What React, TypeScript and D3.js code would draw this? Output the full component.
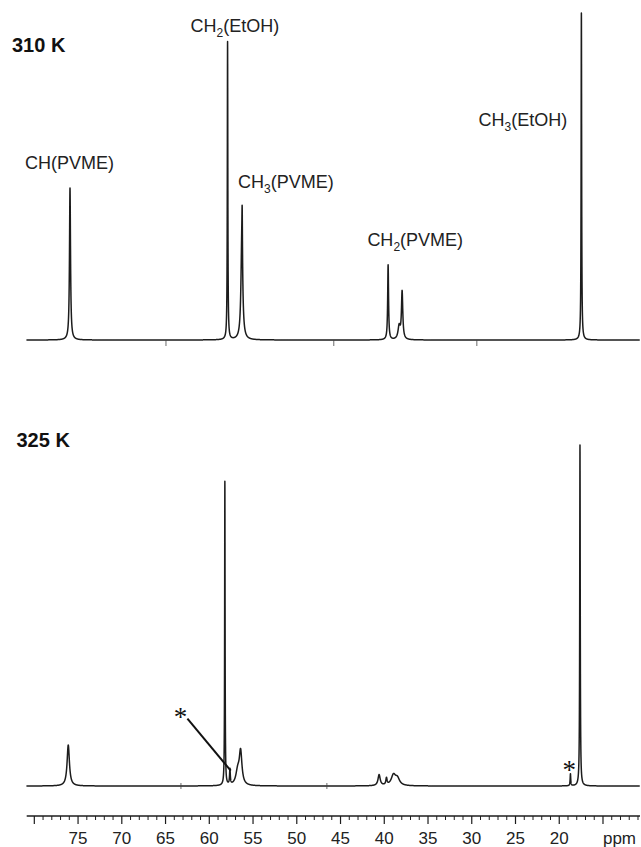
import React, { useEffect, useRef } from 'react';
import * as d3 from 'd3';

// --- data (ppm, % of tallest line, half width in ppm) ---
const spectrum310 = [
  { ppm: 75.92, height: 46.5, hwhm: 0.07 },
  { ppm: 57.91, height: 91.1, hwhm: 0.035 },
  { ppm: 56.24, height: 14.1, hwhm: 0.035 },
  { ppm: 56.28, height: 29.7, hwhm: 0.12 },
  { ppm: 39.56, height: 22.9, hwhm: 0.06 },
  { ppm: 38.3, height: 4.0, hwhm: 0.15 },
  { ppm: 37.96, height: 14.5, hwhm: 0.09 },
  { ppm: 17.47, height: 100, hwhm: 0.035 },
];

const spectrum325 = [
  { ppm: 76.12, height: 12.0, hwhm: 0.16 },
  { ppm: 58.22, height: 89.1, hwhm: 0.03 },
  { ppm: 57.64, height: 4.5, hwhm: 0.05 },
  { ppm: 56.75, height: 4.0, hwhm: 0.25 },
  { ppm: 56.42, height: 9.5, hwhm: 0.18 },
  { ppm: 40.59, height: 3.2, hwhm: 0.15 },
  { ppm: 39.75, height: 2.0, hwhm: 0.08 },
  { ppm: 38.95, height: 3.0, hwhm: 0.3 },
  { ppm: 38.5, height: 2.0, hwhm: 0.3 },
  { ppm: 18.72, height: 3.5, hwhm: 0.04 },
  { ppm: 17.63, height: 100, hwhm: 0.035 },
];

// peak labels of the 310 K trace (label start in ppm, baseline in % units)
const peakLabels = [
  { main: 'CH', sub: '', rest: '(PVME)', ppm: 81.06, y: 52.3 },
  { main: 'CH', sub: '2', rest: '(EtOH)', ppm: 62.14, y: 94.3 },
  { main: 'CH', sub: '3', rest: '(PVME)', ppm: 56.71, y: 46.5 },
  { main: 'CH', sub: '2', rest: '(PVME)', ppm: 41.93, y: 28.7 },
  { main: 'CH', sub: '3', rest: '(EtOH)', ppm: 29.23, y: 65.4 },
];

// small artefact ticks of the original frames
const frameTicks310 = [64.95, 45.77, 29.42];
const frameTicks325 = [63.24, 46.56];

// asterisks for the 325 K trace: label position and the peak it points to
const asterisks = [
  { ppm: 63.3, y: 21.5, target: 57.55, targetY: 4.5, leader: true },
  { ppm: 18.85, y: 6.0, target: 18.72, targetY: 3.5, leader: false },
];

const majorTicks = [80, 75, 70, 65, 60, 55, 50, 45, 40, 35, 30, 25, 20, 15];
const tickLabels = ['', '75', '70', '65', '60', '55', '50', '45', '40', '35', '30', '25', '20', ''];

const W = 641;
const H = 847;

function buildTrace(peaks) {
  const pts = d3.range(10.8, 80.9, 0.005).concat(peaks.map(p => p.ppm));
  pts.sort((a, b) => b - a);
  return pts.map(ppm => ({
    ppm,
    v: d3.sum(peaks, p => p.height / (1 + ((ppm - p.ppm) / p.hwhm) ** 2)),
  }));
}

export default function App() {
  const svgRef = useRef(null);

  useEffect(() => {
    const svg = d3.select(svgRef.current);
    svg.selectAll('*').remove();

    const x = d3.scaleLinear().domain([80.87, 10.77]).range([26.7, 640]);
    const yTop = d3.scaleLinear().domain([0, 100]).range([340, 13]);
    const yBot = d3.scaleLinear().domain([0, 100]).range([786, 445]);

    const font = '"Liberation Sans", Arial, sans-serif';
    const ink = '#1c1c1c';

    const drawTrace = (peaks, y) => {
      const line = d3.line()
        .x(d => x(d.ppm))
        .y(d => y(d.v));
      svg.append('path')
        .datum(buildTrace(peaks))
        .attr('d', line)
        .attr('fill', 'none')
        .attr('stroke', ink)
        .attr('stroke-width', 1.5)
        .attr('stroke-linejoin', 'round');
    };

    drawTrace(spectrum310, yTop);
    drawTrace(spectrum325, yBot);

    // frame artefact ticks
    svg.selectAll('.ft310')
      .data(frameTicks310)
      .join('line')
        .attr('x1', d => x(d)).attr('x2', d => x(d))
        .attr('y1', yTop(0)).attr('y2', yTop(0) + 6)
        .attr('stroke', '#444').attr('stroke-width', 0.8);
    svg.selectAll('.ft325')
      .data(frameTicks325)
      .join('line')
        .attr('x1', d => x(d)).attr('x2', d => x(d))
        .attr('y1', yBot(0) - 3).attr('y2', yBot(0) + 3)
        .attr('stroke', '#444').attr('stroke-width', 0.8);

    // temperature labels
    svg.append('text')
      .attr('x', 12).attr('y', 52)
      .attr('font-family', font).attr('font-weight', 'bold').attr('font-size', 20)
      .attr('fill', '#111')
      .text('310 K');
    svg.append('text')
      .attr('x', 16.5).attr('y', 446.5)
      .attr('font-family', font).attr('font-weight', 'bold').attr('font-size', 20)
      .attr('fill', '#111')
      .text('325 K');

    // peak labels
    peakLabels.forEach(l => {
      const t = svg.append('text')
        .attr('x', x(l.ppm)).attr('y', yTop(l.y))
        .attr('font-family', font).attr('font-size', 18)
        .attr('fill', '#222');
      t.append('tspan').text(l.main);
      if (l.sub) {
        t.append('tspan').attr('font-size', 12).attr('dy', 5).text(l.sub);
        t.append('tspan').attr('dy', -5).text(l.rest);
      } else {
        t.append('tspan').text(l.rest);
      }
    });

    // asterisks
    asterisks.forEach(a => {
      svg.append('text')
        .attr('x', x(a.ppm)).attr('y', yBot(a.y) + 13)
        .attr('text-anchor', 'middle')
        .attr('font-family', '"Liberation Serif", "Times New Roman", serif')
        .attr('font-size', 27)
        .attr('fill', '#111')
        .text('*');
      if (a.leader) {
        svg.append('line')
          .attr('x1', x(a.ppm) + 7).attr('y1', yBot(a.y) + 6)
          .attr('x2', x(a.target)).attr('y2', yBot(a.targetY))
          .attr('stroke', '#111').attr('stroke-width', 2);
      }
    });

    // ppm axis
    const axisY = 816;
    const axis = svg.append('g')
      .attr('transform', `translate(0,${axisY})`);
    axis.append('line')
      .attr('x1', x.range()[0]).attr('x2', x.range()[1])
      .attr('stroke', ink).attr('stroke-width', 1.5);
    axis.selectAll('.minor')
      .data(d3.range(11, 81, 1).filter(v => v % 5 !== 0))
      .join('line')
        .attr('x1', d => x(d)).attr('x2', d => x(d))
        .attr('y1', 0).attr('y2', 4)
        .attr('stroke', ink).attr('stroke-width', 1);
    axis.selectAll('.major')
      .data(majorTicks)
      .join('line')
        .attr('x1', d => x(d)).attr('x2', d => x(d))
        .attr('y1', 0).attr('y2', 8)
        .attr('stroke', ink).attr('stroke-width', 1.2);
    axis.selectAll('.lab')
      .data(majorTicks)
      .join('text')
        .attr('x', d => x(d))
        .attr('y', 28)
        .attr('text-anchor', 'middle')
        .attr('font-family', font).attr('font-size', 17)
        .attr('fill', '#222')
        .text((d, i) => tickLabels[i]);
    axis.append('text')
      .attr('x', 619.5).attr('y', 28)
      .attr('text-anchor', 'middle')
      .attr('font-family', font).attr('font-size', 17)
      .attr('fill', '#222')
      .text('ppm');
  }, []);

  return (
    <svg
      ref={svgRef}
      width={W}
      height={H}
      style={{ position: 'absolute', left: 0, top: 0, background: '#fff' }}
    />
  );
}
